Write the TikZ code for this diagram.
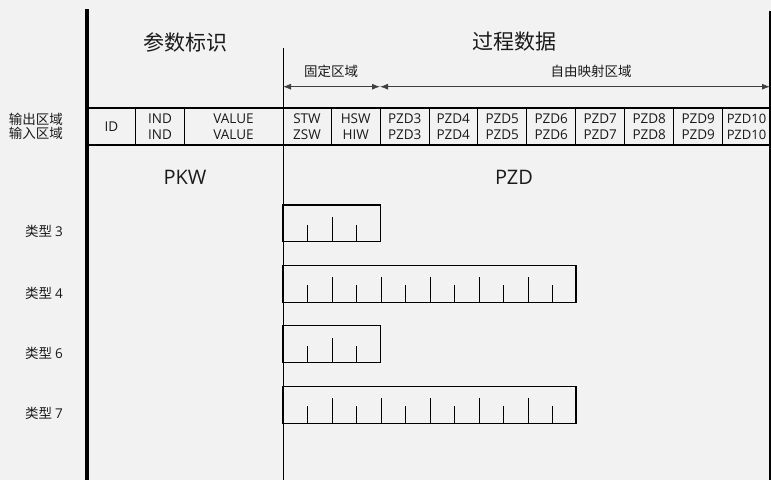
\documentclass[tikz,border=0pt]{standalone}
\usepackage{fontspec}
\setmainfont{Open Sans}
\newfontfamily\cjk{Noto Sans CJK SC}
\usetikzlibrary{arrows.meta}
\definecolor{bg}{HTML}{F2F2F2}
\definecolor{ink}{HTML}{1A1A1A}
\begin{document}
\begin{tikzpicture}[x=1pt,y=-1pt,
  txt/.style={inner sep=0pt,text=ink,font=\cjk\fontsize{13.5}{15}\selectfont},
  cell/.style={inner sep=0pt,text=ink,align=center,font=\fontsize{13.5}{16}\selectfont},
  big/.style={inner sep=0pt,text=ink,font=\cjk\fontsize{21}{24}\selectfont},
  mid/.style={inner sep=0pt,text=ink,font=\fontsize{20}{24}\selectfont},
  small/.style={inner sep=0pt,text=ink,font=\cjk\fontsize{13.5}{15}\selectfont},
  boxline/.style={line width=1.4pt,draw=black},
  tick/.style={line width=1pt,draw=black},
  dim/.style={line width=0.8pt,draw=black!75,{Latex[length=8pt,width=6pt]}-{Latex[length=8pt,width=6pt]}}]
\fill[bg] (0,0) rectangle (771,480);
\useasboundingbox (0,0) rectangle (771,480);
% main vertical lines
\draw[line width=3.6pt] (87,9) -- (87,480);
\draw[line width=0.9pt] (283,48) -- (283,480);
\draw[line width=1.3pt] (770,11) -- (770,480);
% headings
\node[big] (h1) at (185,42) {参数标识};
\node[big] (h2) at (514,42) {过程数据};
\node[small] (fix) at (331,71) {固定区域};
\node[small] (free) at (591,71) {自由映射区域};
% dimension arrows
\coordinate (a0) at (283,86.7);
\coordinate (a1) at (380,86.7);
\coordinate (a2) at (770,86.7);
\draw[dim] (a0) -- (a1);
\draw[dim] (a1) -- (a2);
% table
\draw[line width=1.5pt] (87,108) -- (770,108);
\draw[line width=1.5pt] (87,145) -- (770,145);
\foreach \x in {135.7,184.3,283,331,380.3,429,477.7,526.7,575.7,624.7,673.7,722.7}
  \draw[line width=0.9pt] (\x,108) -- (\x,145);
\node[txt,align=right] (lab) at (36,126.5) {输出区域\\[-1pt]输入区域};
\node[cell] (c0) at (111.5,126.5) {ID};
\node[cell] (c1) at (160,126.5) {IND\\IND};
\node[cell] (c2) at (233.5,126.5) {VALUE\\VALUE};
\node[cell] (c3) at (307,126.5) {STW\\ZSW};
\node[cell] (c4) at (355.7,126.5) {HSW\\HIW};
\foreach \i/\x in {3/404.7,4/453.3,5/502.2,6/551.2,7/600.2,8/649.2,9/698.2}
  \node[cell] (p\i) at (\x,126.5) {PZD\i\\PZD\i};
\node[cell,font=\fontsize{13}{16}\selectfont] (p10) at (746.5,126.5) {PZD10\\PZD10};
% PKW / PZD
\node[mid] (pkw) at (185,177) {PKW};
\node[mid] (pzd) at (514,177) {PZD};
% type labels
\node[small] (t3) at (44,231) {类型 {\rmfamily 3}};
\node[small] (t4) at (44,293) {类型 {\rmfamily 4}};
\node[small] (t6) at (44,353) {类型 {\rmfamily 6}};
\node[small] (t7) at (44,413) {类型 {\rmfamily 7}};
% type boxes
\foreach \yt/\yb/\xr/\n in {205/241.7/380.7/3, 265.7/302.3/576/11, 325.7/362.7/380.7/3, 386.7/423.3/576/11}{
  \draw[boxline] (283,\yt) rectangle (\xr,\yb);
  \foreach \k in {1,...,\n}{
    \pgfmathsetmacro{\tx}{283+24.5*\k}
    \pgfmathsetmacro{\ty}{isodd(\k) ? \yb-17 : \yb-25}
    \draw[tick] (\tx,\yb) -- (\tx,\ty);
  }
}
\end{tikzpicture}
\end{document}
